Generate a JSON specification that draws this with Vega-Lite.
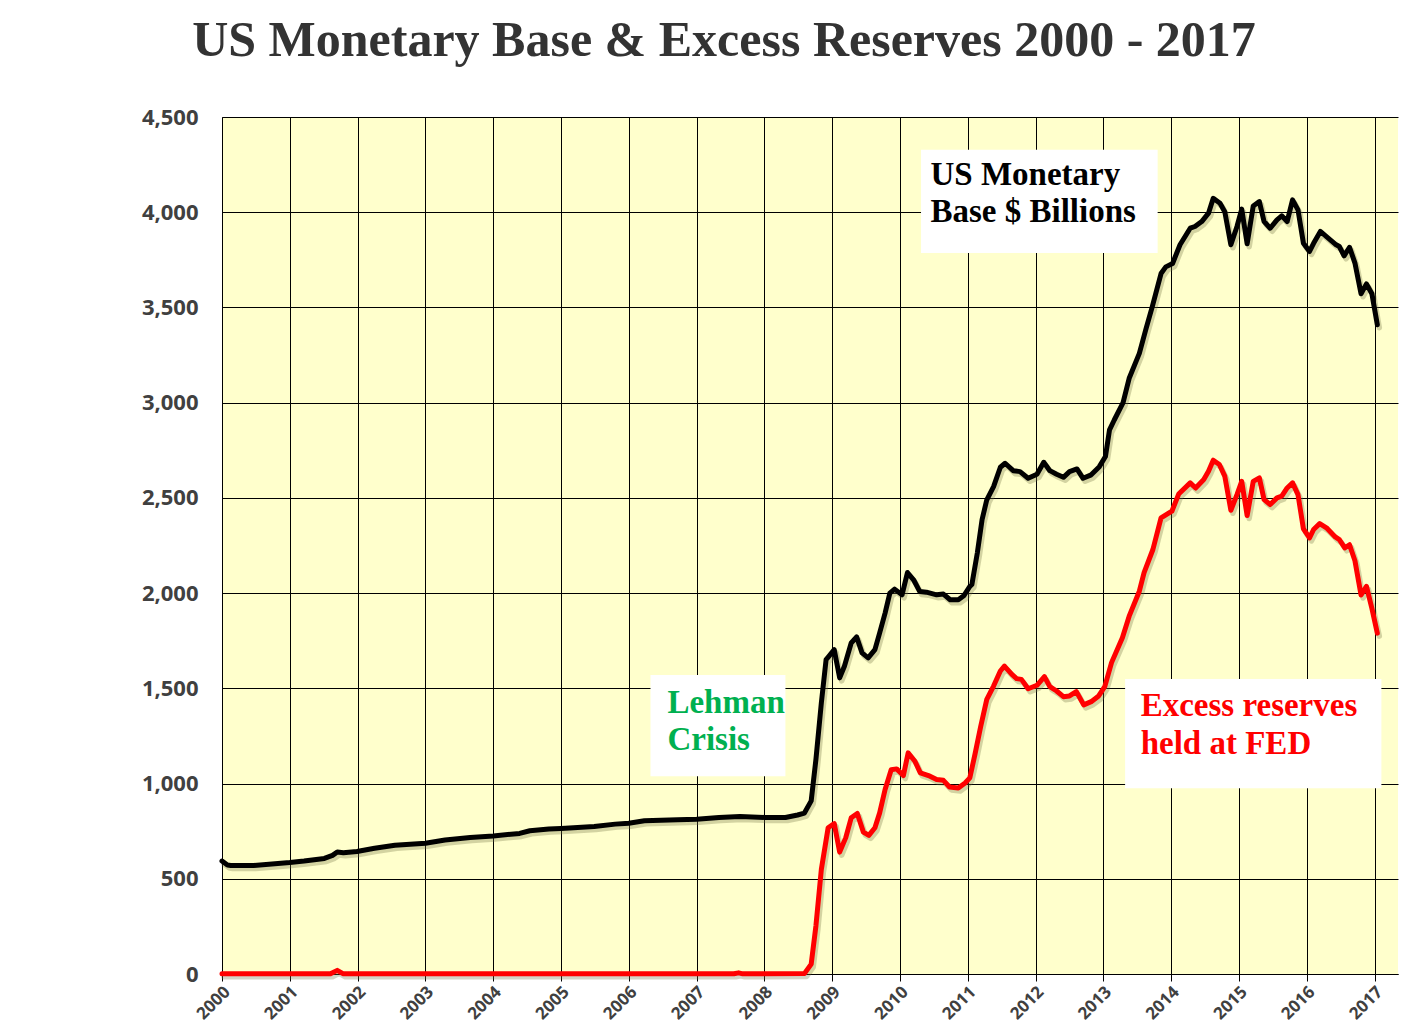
{
  "$schema": "https://vega.github.io/schema/vega-lite/v6.json",
  "width": 1176,
  "height": 857,
  "autosize": "none",
  "padding": {"left": 222, "top": 117, "right": 27, "bottom": 61},
  "background": "white",
  "config": {
    "view": {"fill": "#FFFFCC", "stroke": null},
    "axis": {
      "labelFont": "Open Sans",
      "labelFontWeight": "bold",
      "labelColor": "#404040",
      "gridColor": "#000000",
      "gridWidth": 1,
      "gridOpacity": 1,
      "domainColor": "#000000",
      "domainWidth": 1,
      "tickColor": "#000000",
      "title": null
    }
  },
  "title": {
    "text": "US Monetary Base & Excess Reserves 2000 - 2017",
    "font": "Liberation Serif",
    "fontSize": 50,
    "fontWeight": "bold",
    "color": "#333333",
    "anchor": "middle",
    "dx": -86,
    "offset": 40
  },
  "datasets": {
    "series": [
      {"t": 2000.00, "v": 593, "s": "base"},
      {"t": 2000.08, "v": 572, "s": "base"},
      {"t": 2000.13, "v": 570, "s": "base"},
      {"t": 2000.47, "v": 570, "s": "base"},
      {"t": 2001.00, "v": 585, "s": "base"},
      {"t": 2001.21, "v": 593, "s": "base"},
      {"t": 2001.51, "v": 607, "s": "base"},
      {"t": 2001.63, "v": 623, "s": "base"},
      {"t": 2001.70, "v": 641, "s": "base"},
      {"t": 2001.79, "v": 637, "s": "base"},
      {"t": 2001.99, "v": 643, "s": "base"},
      {"t": 2002.25, "v": 660, "s": "base"},
      {"t": 2002.55, "v": 676, "s": "base"},
      {"t": 2003.00, "v": 687, "s": "base"},
      {"t": 2003.29, "v": 704, "s": "base"},
      {"t": 2003.66, "v": 717, "s": "base"},
      {"t": 2004.00, "v": 725, "s": "base"},
      {"t": 2004.39, "v": 738, "s": "base"},
      {"t": 2004.54, "v": 752, "s": "base"},
      {"t": 2004.82, "v": 761, "s": "base"},
      {"t": 2005.00, "v": 764, "s": "base"},
      {"t": 2005.49, "v": 775, "s": "base"},
      {"t": 2005.80, "v": 787, "s": "base"},
      {"t": 2006.00, "v": 792, "s": "base"},
      {"t": 2006.23, "v": 805, "s": "base"},
      {"t": 2006.72, "v": 810, "s": "base"},
      {"t": 2007.00, "v": 813, "s": "base"},
      {"t": 2007.33, "v": 822, "s": "base"},
      {"t": 2007.64, "v": 827, "s": "base"},
      {"t": 2008.00, "v": 822, "s": "base"},
      {"t": 2008.31, "v": 822, "s": "base"},
      {"t": 2008.49, "v": 835, "s": "base"},
      {"t": 2008.59, "v": 845, "s": "base"},
      {"t": 2008.69, "v": 909, "s": "base"},
      {"t": 2008.76, "v": 1127, "s": "base"},
      {"t": 2008.84, "v": 1424, "s": "base"},
      {"t": 2008.91, "v": 1651, "s": "base"},
      {"t": 2008.95, "v": 1668, "s": "base"},
      {"t": 2009.03, "v": 1703, "s": "base"},
      {"t": 2009.11, "v": 1555, "s": "base"},
      {"t": 2009.18, "v": 1616, "s": "base"},
      {"t": 2009.28, "v": 1738, "s": "base"},
      {"t": 2009.36, "v": 1770, "s": "base"},
      {"t": 2009.44, "v": 1686, "s": "base"},
      {"t": 2009.53, "v": 1660, "s": "base"},
      {"t": 2009.63, "v": 1703, "s": "base"},
      {"t": 2009.70, "v": 1791, "s": "base"},
      {"t": 2009.78, "v": 1895, "s": "base"},
      {"t": 2009.85, "v": 2000, "s": "base"},
      {"t": 2009.92, "v": 2021, "s": "base"},
      {"t": 2010.03, "v": 1991, "s": "base"},
      {"t": 2010.11, "v": 2108, "s": "base"},
      {"t": 2010.20, "v": 2070, "s": "base"},
      {"t": 2010.29, "v": 2009, "s": "base"},
      {"t": 2010.39, "v": 2005, "s": "base"},
      {"t": 2010.54, "v": 1991, "s": "base"},
      {"t": 2010.64, "v": 1995, "s": "base"},
      {"t": 2010.74, "v": 1965, "s": "base"},
      {"t": 2010.86, "v": 1965, "s": "base"},
      {"t": 2010.94, "v": 1986, "s": "base"},
      {"t": 2011.03, "v": 2035, "s": "base"},
      {"t": 2011.06, "v": 2045, "s": "base"},
      {"t": 2011.14, "v": 2210, "s": "base"},
      {"t": 2011.21, "v": 2385, "s": "base"},
      {"t": 2011.28, "v": 2490, "s": "base"},
      {"t": 2011.38, "v": 2559, "s": "base"},
      {"t": 2011.48, "v": 2661, "s": "base"},
      {"t": 2011.55, "v": 2682, "s": "base"},
      {"t": 2011.67, "v": 2643, "s": "base"},
      {"t": 2011.77, "v": 2638, "s": "base"},
      {"t": 2011.89, "v": 2603, "s": "base"},
      {"t": 2012.02, "v": 2624, "s": "base"},
      {"t": 2012.12, "v": 2687, "s": "base"},
      {"t": 2012.21, "v": 2643, "s": "base"},
      {"t": 2012.31, "v": 2624, "s": "base"},
      {"t": 2012.41, "v": 2608, "s": "base"},
      {"t": 2012.50, "v": 2638, "s": "base"},
      {"t": 2012.61, "v": 2652, "s": "base"},
      {"t": 2012.70, "v": 2603, "s": "base"},
      {"t": 2012.82, "v": 2621, "s": "base"},
      {"t": 2012.94, "v": 2664, "s": "base"},
      {"t": 2013.03, "v": 2717, "s": "base"},
      {"t": 2013.09, "v": 2857, "s": "base"},
      {"t": 2013.16, "v": 2909, "s": "base"},
      {"t": 2013.29, "v": 3000, "s": "base"},
      {"t": 2013.38, "v": 3128, "s": "base"},
      {"t": 2013.53, "v": 3259, "s": "base"},
      {"t": 2013.63, "v": 3390, "s": "base"},
      {"t": 2013.72, "v": 3503, "s": "base"},
      {"t": 2013.85, "v": 3678, "s": "base"},
      {"t": 2013.92, "v": 3713, "s": "base"},
      {"t": 2014.02, "v": 3731, "s": "base"},
      {"t": 2014.13, "v": 3829, "s": "base"},
      {"t": 2014.28, "v": 3916, "s": "base"},
      {"t": 2014.35, "v": 3925, "s": "base"},
      {"t": 2014.45, "v": 3951, "s": "base"},
      {"t": 2014.55, "v": 3995, "s": "base"},
      {"t": 2014.62, "v": 4073, "s": "base"},
      {"t": 2014.72, "v": 4047, "s": "base"},
      {"t": 2014.79, "v": 4003, "s": "base"},
      {"t": 2014.88, "v": 3829, "s": "base"},
      {"t": 2014.97, "v": 3925, "s": "base"},
      {"t": 2015.04, "v": 4016, "s": "base"},
      {"t": 2015.12, "v": 3834, "s": "base"},
      {"t": 2015.21, "v": 4033, "s": "base"},
      {"t": 2015.30, "v": 4056, "s": "base"},
      {"t": 2015.37, "v": 3951, "s": "base"},
      {"t": 2015.46, "v": 3916, "s": "base"},
      {"t": 2015.56, "v": 3960, "s": "base"},
      {"t": 2015.63, "v": 3981, "s": "base"},
      {"t": 2015.71, "v": 3951, "s": "base"},
      {"t": 2015.79, "v": 4065, "s": "base"},
      {"t": 2015.87, "v": 4012, "s": "base"},
      {"t": 2015.95, "v": 3837, "s": "base"},
      {"t": 2016.04, "v": 3794, "s": "base"},
      {"t": 2016.10, "v": 3837, "s": "base"},
      {"t": 2016.20, "v": 3899, "s": "base"},
      {"t": 2016.29, "v": 3872, "s": "base"},
      {"t": 2016.42, "v": 3832, "s": "base"},
      {"t": 2016.48, "v": 3820, "s": "base"},
      {"t": 2016.55, "v": 3771, "s": "base"},
      {"t": 2016.63, "v": 3816, "s": "base"},
      {"t": 2016.71, "v": 3733, "s": "base"},
      {"t": 2016.80, "v": 3572, "s": "base"},
      {"t": 2016.88, "v": 3624, "s": "base"},
      {"t": 2016.96, "v": 3572, "s": "base"},
      {"t": 2017.04, "v": 3409, "s": "base"},

      {"t": 2000.00, "v": 1, "s": "excess"},
      {"t": 2001.60, "v": 1, "s": "excess"},
      {"t": 2001.70, "v": 19, "s": "excess"},
      {"t": 2001.79, "v": 1, "s": "excess"},
      {"t": 2007.55, "v": 1, "s": "excess"},
      {"t": 2007.62, "v": 6, "s": "excess"},
      {"t": 2007.68, "v": 1, "s": "excess"},
      {"t": 2008.59, "v": 2, "s": "excess"},
      {"t": 2008.69, "v": 52, "s": "excess"},
      {"t": 2008.76, "v": 253, "s": "excess"},
      {"t": 2008.84, "v": 550, "s": "excess"},
      {"t": 2008.94, "v": 768, "s": "excess"},
      {"t": 2009.03, "v": 790, "s": "excess"},
      {"t": 2009.11, "v": 640, "s": "excess"},
      {"t": 2009.20, "v": 716, "s": "excess"},
      {"t": 2009.28, "v": 820, "s": "excess"},
      {"t": 2009.37, "v": 843, "s": "excess"},
      {"t": 2009.46, "v": 745, "s": "excess"},
      {"t": 2009.54, "v": 728, "s": "excess"},
      {"t": 2009.63, "v": 768, "s": "excess"},
      {"t": 2009.70, "v": 846, "s": "excess"},
      {"t": 2009.78, "v": 969, "s": "excess"},
      {"t": 2009.87, "v": 1073, "s": "excess"},
      {"t": 2009.95, "v": 1077, "s": "excess"},
      {"t": 2010.05, "v": 1042, "s": "excess"},
      {"t": 2010.12, "v": 1161, "s": "excess"},
      {"t": 2010.22, "v": 1117, "s": "excess"},
      {"t": 2010.30, "v": 1056, "s": "excess"},
      {"t": 2010.42, "v": 1042, "s": "excess"},
      {"t": 2010.54, "v": 1021, "s": "excess"},
      {"t": 2010.64, "v": 1017, "s": "excess"},
      {"t": 2010.73, "v": 982, "s": "excess"},
      {"t": 2010.86, "v": 977, "s": "excess"},
      {"t": 2010.96, "v": 1003, "s": "excess"},
      {"t": 2011.03, "v": 1030, "s": "excess"},
      {"t": 2011.11, "v": 1161, "s": "excess"},
      {"t": 2011.19, "v": 1300, "s": "excess"},
      {"t": 2011.28, "v": 1442, "s": "excess"},
      {"t": 2011.38, "v": 1512, "s": "excess"},
      {"t": 2011.48, "v": 1591, "s": "excess"},
      {"t": 2011.54, "v": 1617, "s": "excess"},
      {"t": 2011.65, "v": 1573, "s": "excess"},
      {"t": 2011.72, "v": 1551, "s": "excess"},
      {"t": 2011.79, "v": 1547, "s": "excess"},
      {"t": 2011.89, "v": 1498, "s": "excess"},
      {"t": 2012.02, "v": 1516, "s": "excess"},
      {"t": 2012.13, "v": 1561, "s": "excess"},
      {"t": 2012.21, "v": 1509, "s": "excess"},
      {"t": 2012.31, "v": 1486, "s": "excess"},
      {"t": 2012.41, "v": 1456, "s": "excess"},
      {"t": 2012.50, "v": 1460, "s": "excess"},
      {"t": 2012.60, "v": 1483, "s": "excess"},
      {"t": 2012.71, "v": 1413, "s": "excess"},
      {"t": 2012.82, "v": 1430, "s": "excess"},
      {"t": 2012.93, "v": 1460, "s": "excess"},
      {"t": 2013.02, "v": 1509, "s": "excess"},
      {"t": 2013.12, "v": 1635, "s": "excess"},
      {"t": 2013.28, "v": 1766, "s": "excess"},
      {"t": 2013.38, "v": 1879, "s": "excess"},
      {"t": 2013.53, "v": 2010, "s": "excess"},
      {"t": 2013.60, "v": 2107, "s": "excess"},
      {"t": 2013.73, "v": 2229, "s": "excess"},
      {"t": 2013.85, "v": 2395, "s": "excess"},
      {"t": 2014.01, "v": 2430, "s": "excess"},
      {"t": 2014.11, "v": 2520, "s": "excess"},
      {"t": 2014.28, "v": 2579, "s": "excess"},
      {"t": 2014.36, "v": 2552, "s": "excess"},
      {"t": 2014.48, "v": 2596, "s": "excess"},
      {"t": 2014.55, "v": 2640, "s": "excess"},
      {"t": 2014.62, "v": 2698, "s": "excess"},
      {"t": 2014.71, "v": 2675, "s": "excess"},
      {"t": 2014.79, "v": 2614, "s": "excess"},
      {"t": 2014.88, "v": 2435, "s": "excess"},
      {"t": 2014.97, "v": 2517, "s": "excess"},
      {"t": 2015.04, "v": 2587, "s": "excess"},
      {"t": 2015.12, "v": 2407, "s": "excess"},
      {"t": 2015.21, "v": 2587, "s": "excess"},
      {"t": 2015.30, "v": 2605, "s": "excess"},
      {"t": 2015.37, "v": 2491, "s": "excess"},
      {"t": 2015.46, "v": 2465, "s": "excess"},
      {"t": 2015.56, "v": 2500, "s": "excess"},
      {"t": 2015.63, "v": 2509, "s": "excess"},
      {"t": 2015.71, "v": 2552, "s": "excess"},
      {"t": 2015.79, "v": 2579, "s": "excess"},
      {"t": 2015.87, "v": 2517, "s": "excess"},
      {"t": 2015.95, "v": 2337, "s": "excess"},
      {"t": 2016.04, "v": 2290, "s": "excess"},
      {"t": 2016.10, "v": 2334, "s": "excess"},
      {"t": 2016.19, "v": 2365, "s": "excess"},
      {"t": 2016.29, "v": 2343, "s": "excess"},
      {"t": 2016.42, "v": 2295, "s": "excess"},
      {"t": 2016.48, "v": 2281, "s": "excess"},
      {"t": 2016.56, "v": 2238, "s": "excess"},
      {"t": 2016.63, "v": 2254, "s": "excess"},
      {"t": 2016.71, "v": 2170, "s": "excess"},
      {"t": 2016.80, "v": 1990, "s": "excess"},
      {"t": 2016.88, "v": 2035, "s": "excess"},
      {"t": 2016.96, "v": 1920, "s": "excess"},
      {"t": 2017.04, "v": 1790, "s": "excess"}
    ],
    "boxes": [
      {"t1": 2010.31, "t2": 2013.80, "v1": 4328, "v2": 3786},
      {"t1": 2006.32, "t2": 2008.31, "v1": 1570, "v2": 1038},
      {"t1": 2013.32, "t2": 2017.10, "v1": 1549, "v2": 975}
    ],
    "notes": [
      {"t": 2010.45, "v": 4144, "label": "US Monetary", "k": "base"},
      {"t": 2010.45, "v": 3947, "label": "Base $ Billions", "k": "base"},
      {"t": 2006.57, "v": 1370, "label": "Lehman", "k": "lehman"},
      {"t": 2006.57, "v": 1175, "label": "Crisis", "k": "lehman"},
      {"t": 2013.55, "v": 1354, "label": "Excess reserves", "k": "excess"},
      {"t": 2013.55, "v": 1154, "label": "held at FED", "k": "excess"}
    ]
  },
  "layer": [
    {
      "data": {"name": "series"},
      "mark": {"type": "line", "strokeWidth": 5.5, "color": "#6e6e40", "opacity": 0.3, "xOffset": 2, "yOffset": 3, "strokeJoin": "round", "strokeCap": "round"},
      "encoding": {
        "x": {
          "field": "t", "type": "quantitative",
          "scale": {"domain": [2000, 2017.345], "nice": false, "zero": false},
          "axis": {
            "values": [2000, 2001, 2002, 2003, 2004, 2005, 2006, 2007, 2008, 2009, 2010, 2011, 2012, 2013, 2014, 2015, 2016, 2017],
            "format": "d",
            "grid": true,
            "ticks": true,
            "tickSize": 7,
            "labelAngle": -45,
            "labelAlign": "right",
            "labelBaseline": "middle",
            "labelFontSize": 17,
            "labelPadding": 8,
            "labelOffset": 5
          }
        },
        "y": {
          "field": "v", "type": "quantitative",
          "scale": {"domain": [0, 4500], "nice": false},
          "axis": {
            "values": [0, 500, 1000, 1500, 2000, 2500, 3000, 3500, 4000, 4500],
            "format": ",d",
            "grid": true,
            "ticks": false,
            "labelFontSize": 22,
            "labelPadding": 24
          }
        },
        "detail": {"field": "s"}
      }
    },
    {
      "data": {"name": "series"},
      "mark": {"type": "line", "strokeWidth": 5, "strokeJoin": "round", "strokeCap": "round"},
      "encoding": {
        "x": {"field": "t", "type": "quantitative"},
        "y": {"field": "v", "type": "quantitative"},
        "color": {
          "field": "s", "type": "nominal",
          "scale": {"domain": ["base", "excess", "lehman"], "range": ["#000000", "#FF0000", "#00B050"]},
          "legend": null
        }
      }
    },
    {
      "data": {"name": "boxes"},
      "mark": {"type": "rect", "fill": "#FFFFFF"},
      "encoding": {
        "x": {"field": "t1", "type": "quantitative"},
        "x2": {"field": "t2"},
        "y": {"field": "v1", "type": "quantitative"},
        "y2": {"field": "v2"}
      }
    },
    {
      "data": {"name": "notes"},
      "mark": {"type": "text", "align": "left", "baseline": "alphabetic", "font": "Liberation Serif", "fontWeight": "bold", "fontSize": 33},
      "encoding": {
        "x": {"field": "t", "type": "quantitative"},
        "y": {"field": "v", "type": "quantitative"},
        "text": {"field": "label"},
        "color": {"field": "k", "type": "nominal", "legend": null}
      }
    }
  ]
}
